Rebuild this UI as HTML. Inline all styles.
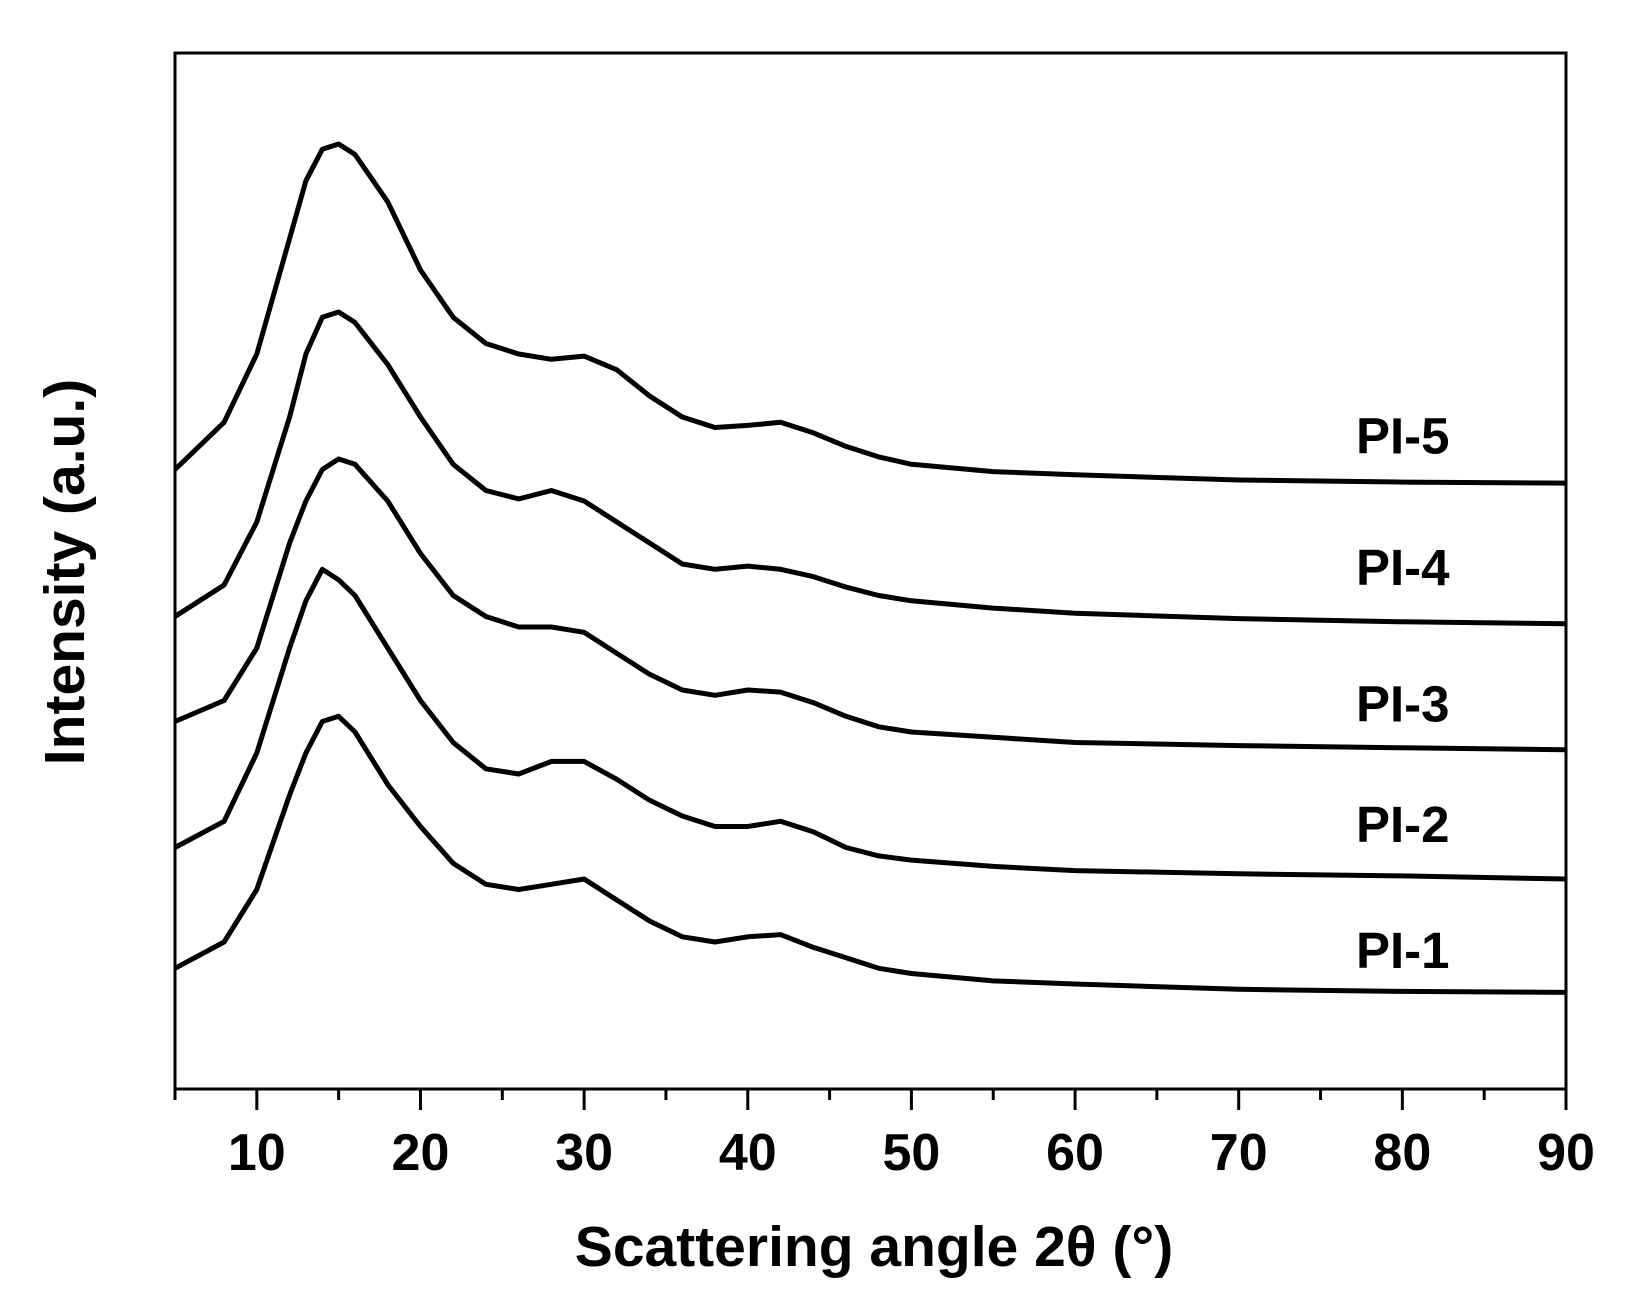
<!DOCTYPE html>
<html><head><meta charset="utf-8"><style>
html,body{margin:0;padding:0;background:#fff;}
svg{display:block;}
text{font-family:"Liberation Sans",Arial,sans-serif;font-weight:bold;fill:#000;}
</style></head><body>
<svg id="chart" width="1638" height="1305" viewBox="0 0 1638 1305">
<rect x="175" y="53" width="1391" height="1036" fill="none" stroke="#000" stroke-width="3"/>
<g id="ticks"></g>
<g id="series"></g>
<g id="labels"></g>
<text x="874" y="1266" font-size="57" text-anchor="middle">Scattering angle 2θ (°)</text>
<text transform="translate(84,572) rotate(-90)" font-size="57" text-anchor="middle">Intensity (a.u.)</text>
</svg>
<script>
const angles=[5,8,10,12,13,14,15,16,18,20,22,24,26,28,30,32,34,36,38,40,42,44,46,48,50,55,60,70,80,90];
const pi5=[590,635,700,810,865,895,900,890,845,780,735,710,700,695,698,685,660,640,630,632,635,625,612,602,595,588,585,580,578,577];
const pi4=[450,480,540,640,700,735,740,730,690,640,595,570,562,570,560,540,520,500,495,498,495,488,478,470,465,458,453,448,445,443];
const pi3=[350,370,420,520,560,590,600,595,560,510,470,450,440,440,435,415,395,380,375,380,378,368,355,345,340,335,330,327,325,323];
const pi2=[230,255,320,420,465,495,485,470,420,370,330,305,300,312,312,295,275,260,250,250,255,245,230,222,218,212,208,205,203,200];
const pi1=[115,140,190,280,320,350,355,340,290,250,215,195,190,195,200,180,160,145,140,145,147,135,125,115,110,103,100,95,93,92];
const seriesNames=["PI-1","PI-2","PI-3","PI-4","PI-5"];
const tickValues=[10,20,30,40,50,60,70,80,90];
const minorTicks=[5,15,25,35,45,55,65,75,85];
const labelValues=[120,240,355,485,610];

const NS="http://www.w3.org/2000/svg";
function xs(v){return 175+(v-5)*(1566-175)/85;}
function ys(v){return 1089-v*1.05;}
const tg=document.getElementById('ticks');
tickValues.forEach(t=>{
  const l=document.createElementNS(NS,'line');
  l.setAttribute('x1',xs(t));l.setAttribute('x2',xs(t));l.setAttribute('y1',1089);l.setAttribute('y2',1110);
  l.setAttribute('stroke','#000');l.setAttribute('stroke-width','3');
  
  
  tg.appendChild(l);
  const tx=document.createElementNS(NS,'text');
  tx.setAttribute('x',xs(t));tx.setAttribute('y',1170);tx.setAttribute('font-size','52');tx.setAttribute('text-anchor','middle');
  tx.textContent=t;
  
  
  tg.appendChild(tx);
});
minorTicks.forEach(t=>{
  const l=document.createElementNS(NS,'line');
  l.setAttribute('x1',xs(t));l.setAttribute('x2',xs(t));l.setAttribute('y1',1089);l.setAttribute('y2',1100);
  l.setAttribute('stroke','#000');l.setAttribute('stroke-width','3');
  
  
  tg.appendChild(l);
});
const sg=document.getElementById('series');
const lg=document.getElementById('labels');
[pi1,pi2,pi3,pi4,pi5].forEach((arr,i)=>{
  const d=arr.map((v,j)=>(j?'L':'M')+xs(angles[j]).toFixed(1)+' '+ys(v).toFixed(1)).join(' ');
  const p=document.createElementNS(NS,'path');
  p.setAttribute('d',d);p.setAttribute('fill','none');p.setAttribute('stroke','#000');
  p.setAttribute('stroke-width','5');p.setAttribute('stroke-linejoin','round');
  
  
  sg.appendChild(p);
  const tx=document.createElementNS(NS,'text');
  tx.setAttribute('x',1356);tx.setAttribute('y',ys(labelValues[i])+5);
  tx.setAttribute('font-size','51');
  tx.textContent=seriesNames[i];
  
  
  lg.appendChild(tx);
});
</script>
</body></html>
